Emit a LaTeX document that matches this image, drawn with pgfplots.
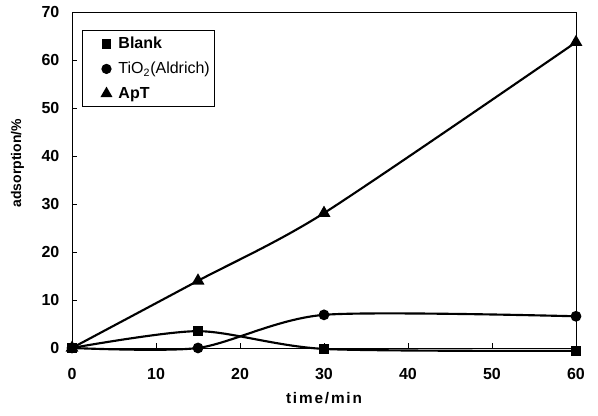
\documentclass[border=0pt]{standalone}
\usepackage{fontspec}
\setmainfont{Liberation Sans}
\newfontfamily\spaced[LetterSpace=12]{Liberation Sans}
\usepackage{pgfplots}
\pgfplotsset{compat=1.18}

\begin{document}
\begin{tikzpicture}
\begin{axis}[
  scale only axis,
  width=378pt, height=252pt,
  xmin=0, xmax=60, ymin=0, ymax=70,
  xtick={0,10,...,60}, ytick={0,10,...,70},
  xtick pos=bottom, ytick pos=left,
  tick align=inside,
  major tick length=4pt,
  axis line style={line width=0.6pt},
  tick style={line width=0.6pt, black},
  clip=false,
  /pgf/number format/assume math mode=true,
  tick label style={font=\fontsize{12}{14}\selectfont\bfseries},
  xticklabel style={yshift=-12pt},
  yticklabel style={xshift=-6pt},
  xlabel={\spaced\bfseries time/min},
  ylabel={adsorption/\%},
  xlabel style={font=\fontsize{11.5}{13}\selectfont, at={(rel axis cs:0.5,-0.15)}, anchor=center},
  ylabel style={font=\fontsize{10.5}{12}\selectfont\bfseries, at={(rel axis cs:-0.108,0.55)}, anchor=center},
  legend cell align=left,
  legend style={
    at={(rel axis cs:0.02,0.946)}, anchor=north west,
    draw=black, line width=0.6pt,
    font=\fontsize{12}{14}\selectfont\bfseries,
    inner xsep=4pt, inner ysep=3pt,
    row sep=4.5pt,
    text width=66pt,
  },
  legend image code/.code={
    \path[draw=none, fill=none] (0pt,-3pt) rectangle (21pt,3pt);
    \draw[only marks,#1] plot coordinates {(14pt,0pt)};
  },
  every axis plot/.append style={line width=1.6pt, black, smooth, tension=0.45},
]
\addplot[mark=square*, mark size=3pt, forget plot] coordinates {
  (0,0) (15,3.5) (30,-0.2) (60,-0.6)
};
\addplot[mark=*, mark size=3.2pt, forget plot] coordinates {
  (0,0) (15,0) (30,6.9) (60,6.6)
};
\addplot[mark=triangle*, mark size=4pt, forget plot] coordinates {
  (0,0) (15,14) (30,28.1) (60,63.7)
};
\addlegendimage{mark=square*, mark size=2.8pt, black}
\addlegendentry{Blank}
\addlegendimage{mark=*, mark size=3pt, black}
\addlegendentry{\mdseries TiO\textsubscript{2}(Aldrich)}
\addlegendimage{mark=triangle*, mark size=3.6pt, black}
\addlegendentry{ApT}
\path (rel axis cs:-0.1429,-0.2024) rectangle (rel axis cs:1.0437,1.0357);
\end{axis}
\end{tikzpicture}
\end{document}
